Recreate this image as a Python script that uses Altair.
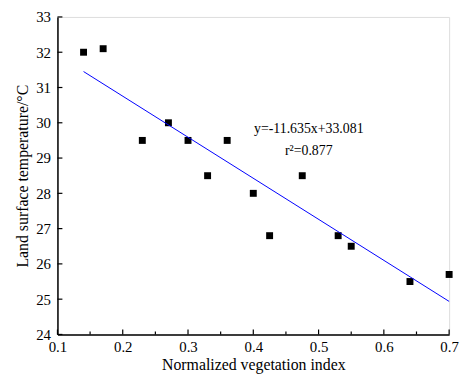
import altair as alt
import pandas as pd

ndvi = [0.14, 0.17, 0.23, 0.27, 0.30, 0.33, 0.36, 0.40, 0.425, 0.475, 0.53, 0.55, 0.64, 0.70]
lst = [32.0, 32.1, 29.5, 30.0, 29.5, 28.5, 29.5, 28.0, 26.8, 28.5, 26.8, 26.5, 25.5, 25.7]
slope = -11.635
intercept = 33.081
fit_x = [0.14, 0.70]
x_major = [0.1, 0.2, 0.3, 0.4, 0.5, 0.6, 0.7]
x_minor = [0.15, 0.25, 0.35, 0.45, 0.55, 0.65]
y_major = [24, 25, 26, 27, 28, 29, 30, 31, 32, 33]

W, H = 396, 321
FONT = "Liberation Serif"

pts = pd.DataFrame({"x": ndvi, "y": lst})
fit = pd.DataFrame({"x": fit_x})
xs = alt.Scale(domain=[0.1, 0.7], nice=False, zero=False)
ys = alt.Scale(domain=[24, 33], nice=False, zero=False)

base_x_axis = alt.Axis(values=x_major, format=".1f", ticks=False, domainWidth=1.5,
                       domainColor="black", labelFont=FONT, labelFontSize=15,
                       labelColor="black", labelPadding=5, labelOverlap=False, labelFlush=False,
                       title="Normalized vegetation index",
                       titleFont=FONT, titleFontSize=16, titleFontWeight="normal",
                       titleColor="black", titlePadding=2, grid=False)
base_y_axis = alt.Axis(values=y_major, format="d", ticks=False, domainWidth=1.5,
                       domainColor="black", labelFont=FONT, labelFontSize=15,
                       labelColor="black", labelPadding=7, labelOverlap=False, labelFlush=False,
                       title="Land surface temperature/°C",
                       titleFont=FONT, titleFontSize=16, titleFontWeight="normal",
                       titleColor="black", titlePadding=5, grid=False)


def X(f="x"):
    return alt.X(f"{f}:Q", scale=xs, axis=base_x_axis)


def Y(f="y"):
    return alt.Y(f"{f}:Q", scale=ys, axis=base_y_axis)


points = alt.Chart(pts).mark_square(size=49, color="black", opacity=1, filled=True).encode(
    x=X(), y=Y())

line = alt.Chart(fit).transform_calculate(
    y=f"{slope}*datum.x+{intercept}"
).mark_line(color="#0000ff", strokeWidth=1).encode(x=X(), y=Y())

xt_major = alt.Chart(pd.DataFrame({"x": x_major})).mark_rule(color="black", strokeWidth=1.2).encode(
    x=X(), y=alt.value(H), y2=alt.value(H - 5))
xt_minor = alt.Chart(pd.DataFrame({"x": x_minor})).mark_rule(color="black", strokeWidth=1.2).encode(
    x=X(), y=alt.value(H), y2=alt.value(H - 3))
yt_major = alt.Chart(pd.DataFrame({"y": y_major})).mark_rule(color="black", strokeWidth=1.2).encode(
    y=Y(), x=alt.value(0), x2=alt.value(5))

eq = alt.Chart(pd.DataFrame({"t": ["y=-11.635x+33.081"], "x": [0.485], "y": [29.83]})).mark_text(
    font=FONT, fontSize=14, color="black").encode(x=X(), y=Y(), text="t:N")
r2 = alt.Chart(pd.DataFrame({"t": ["r²=0.877"], "x": [0.485], "y": [29.21]})).mark_text(
    font=FONT, fontSize=14, color="black").encode(x=X(), y=Y(), text="t:N")

chart = alt.layer(points, line, xt_major, xt_minor, yt_major, eq, r2).properties(
    width=W, height=H,
    autosize=alt.AutoSizeParams(type="none"),
    padding={"left": 50, "top": 7, "right": 12, "bottom": 43},
).configure_view(stroke=None).configure(background="white")

chart.save("out.html", embed_options={"renderer": "svg", "actions": False})
